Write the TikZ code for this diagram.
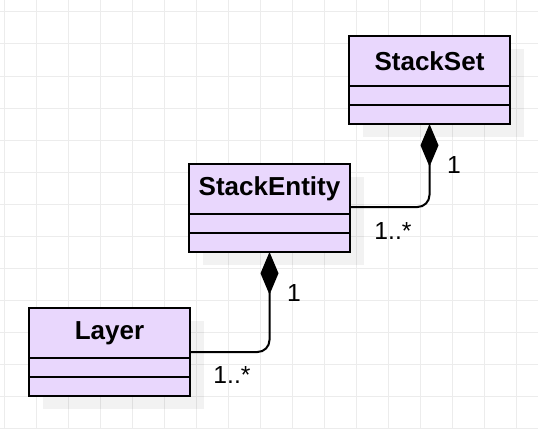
\documentclass[tikz,border=0pt]{standalone}
\usepackage{fontspec}
\setmainfont{Liberation Sans}
\usetikzlibrary{arrows.meta,positioning,shadows}
\definecolor{classfill}{RGB}{233,215,253}
\definecolor{gridgray}{RGB}{236,236,236}
\newcommand{\umlsize}{\fontsize{18.5}{21}\selectfont}
\newcommand{\umltitle}{\fontsize{19.5}{22}\selectfont\bfseries}
\tikzset{
  gridline/.style={gridgray, line width=0.75pt},
  clshadow/.style={drop shadow={shadow xshift=10.5pt, shadow yshift=-9.75pt, fill=black, opacity=0.05}},
  clshead/.style={draw=black, fill=classfill, line width=1.5pt, outer sep=0pt,
                  minimum width=120.75pt, minimum height=37.5pt, font=\umltitle, clshadow},
  clscomp/.style={draw=black, fill=classfill, line width=1.5pt, outer sep=0pt, inner sep=0pt,
                  minimum width=120.75pt, minimum height=14.25pt, clshadow},
  comparr/.style={-{Diamond[length=32pt, width=13.5pt]}, black, line width=1.5pt, rounded corners=9pt},
  multlbl/.style={font=\umlsize, inner sep=0pt},
}

\begin{document}
\begin{tikzpicture}[x=0.75pt, y=-0.75pt]
  \useasboundingbox (0,0) rectangle (538,428);
  \foreach \gx in {4,36,...,538} \draw[gridline] (\gx,0) -- (\gx,428);
  \foreach \gy in {12,44,...,428} \draw[gridline] (0,\gy) -- (538,\gy);
  % classes
  \node[clshead] (ss-head) at (429.5,61) {StackSet};
  \node[clscomp, below=0pt of ss-head] (ss-c1) {};
  \node[clscomp, below=0pt of ss-c1] (ss-c2) {};
  \node[clshead] (se-head) at (269.5,189) {StackEntity};
  \node[clscomp, below=0pt of se-head] (se-c1) {};
  \node[clscomp, below=0pt of se-c1] (se-c2) {};
  \node[clshead] (ly-head) at (109.5,333) {Layer};
  \node[clscomp, below=0pt of ly-head] (ly-c1) {};
  \node[clscomp, below=0pt of ly-c1] (ly-c2) {};
  % compositions
  \coordinate (se-bend) at (430,207);
  \draw[comparr] (se-head.east |- se-bend) -| (ss-c2.south);
  \node[multlbl] (ss-mult) at (454,165) {1};
  \node[multlbl] (se-mult) at (393,231) {1..*};
  \coordinate (ly-bend) at (270,352);
  \draw[comparr] (ly-head.east |- ly-bend) -| (se-c2.south);
  \node[multlbl] (se-mult2) at (294,293) {1};
  \node[multlbl] (ly-mult) at (232,375) {1..*};
\end{tikzpicture}
\end{document}
